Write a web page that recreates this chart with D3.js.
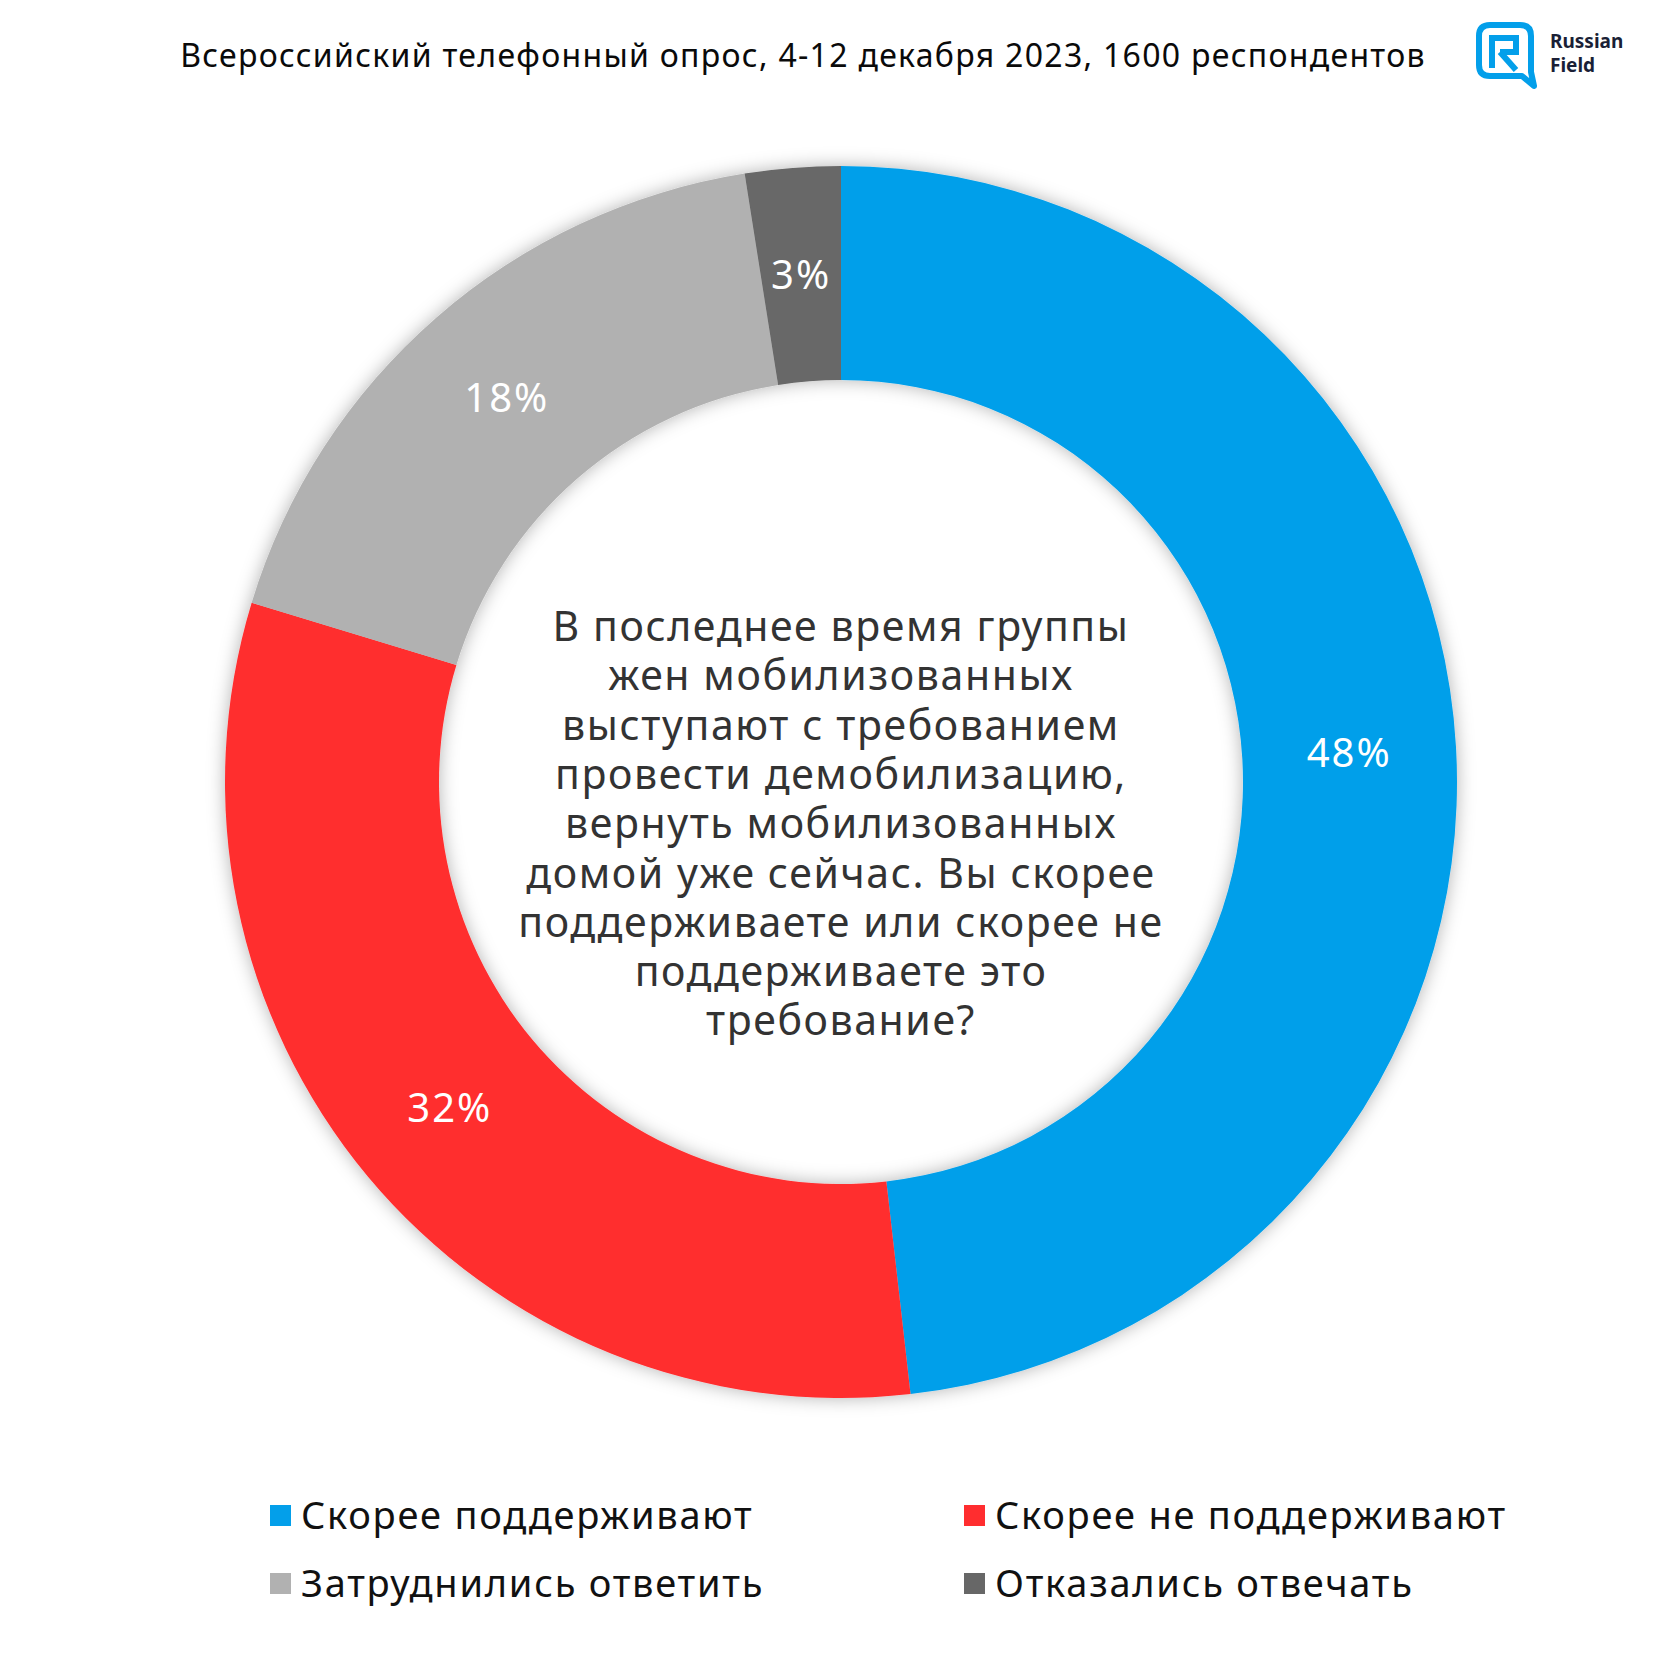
<!DOCTYPE html>
<html><head><meta charset="utf-8">
<script src="https://cdn.jsdelivr.net/npm/d3@7"></script>
<style>html,body{margin:0;padding:0;background:#fff}svg{display:block}</style>
</head><body>
<script>
const categories = ["Скорее поддерживают","Скорее не поддерживают","Затруднились ответить","Отказались отвечать"];
const values = [48.2, 31.5, 17.8, 2.5];
const labels = ["48%","32%","18%","3%"];
const colors = ["#039FEA","#FF2D2F","#B1B1B1","#676767"];
const title = "Всероссийский телефонный опрос, 4-12 декабря 2023, 1600 респондентов";
const question = ["В последнее время группы","жен мобилизованных","выступают с требованием","провести демобилизацию,","вернуть мобилизованных","домой уже сейчас. Вы скорее","поддерживаете или скорее не","поддерживаете это","требование?"];

const W=1680,H=1680, cx=841, cy=782, rOut=616, rIn=402;
const font = "'Noto Sans', sans-serif";
const svg = d3.select("body").append("svg").attr("width",W).attr("height",H);
const defs = svg.append("defs");
const f = defs.append("filter").attr("id","sh").attr("x","-20%").attr("y","-20%").attr("width","140%").attr("height","140%");
f.append("feDropShadow").attr("dx",0).attr("dy",0).attr("stdDeviation",9).attr("flood-color","#000").attr("flood-opacity",0.3);

svg.append("text").attr("x",803).attr("y",67).attr("text-anchor","middle")
  .attr("font-family",font).attr("font-size",32).attr("letter-spacing",1.3).attr("fill","#0a0a0a").text(title);

// logo
const lg = svg.append("g").attr("transform","translate(1476,22)");
lg.append("path").attr("d","M14,3 H44 Q55,3 55,14 V50 L58,64 L46,54 H14 Q3,54 3,43 V14 Q3,3 14,3 Z")
  .attr("fill","none").attr("stroke","#039FEA").attr("stroke-width",6).attr("stroke-linejoin","round");
lg.append("path").attr("d","M16,46 V16 H40 V30 H24 M24,30 L40,48")
  .attr("fill","none").attr("stroke","#039FEA").attr("stroke-width",6);
svg.append("text").attr("x",1550).attr("y",48).attr("font-family",font).attr("font-weight","bold").attr("font-size",19).attr("fill","#1a1f36").text("Russian");
svg.append("text").attr("x",1550).attr("y",72).attr("font-family",font).attr("font-weight","bold").attr("font-size",19).attr("fill","#1a1f36").text("Field");

const pie = d3.pie().sort(null).value(d=>d)(values);
const arc = d3.arc().innerRadius(rIn).outerRadius(rOut);
const g = svg.append("g").attr("transform",`translate(${cx},${cy})`);
g.append("g").attr("filter","url(#sh)").selectAll("path").data(pie).join("path")
  .attr("d",arc).attr("fill",(d,i)=>colors[i]);
g.selectAll("text.lab").data(pie).join("text").attr("class","lab")
  .attr("transform",d=>`translate(${arc.centroid(d)})`).attr("text-anchor","middle").attr("dy","0.35em")
  .attr("font-family",font).attr("font-size",40).attr("letter-spacing",2).attr("fill","#fff").text((d,i)=>labels[i]);

const qt = svg.append("text").attr("text-anchor","middle").attr("font-family",font).attr("font-size",41).attr("letter-spacing",1.6).attr("fill","#333");
question.forEach((l,i)=>qt.append("tspan").attr("x",cx).attr("y",641+i*49.3).text(l));

const leg = svg.append("g");
categories.forEach((c,i)=>{
  const x = i%2===0 ? 270 : 964, y = i<2 ? 1516 : 1584;
  leg.append("rect").attr("x",x).attr("y",y-11).attr("width",21).attr("height",21).attr("fill",colors[i]);
  leg.append("text").attr("x",x+31).attr("y",y).attr("dy","0.35em").attr("font-family",font).attr("font-size",38).attr("letter-spacing",1.75).attr("fill","#111").text(c);
});
</script>
</body></html>
